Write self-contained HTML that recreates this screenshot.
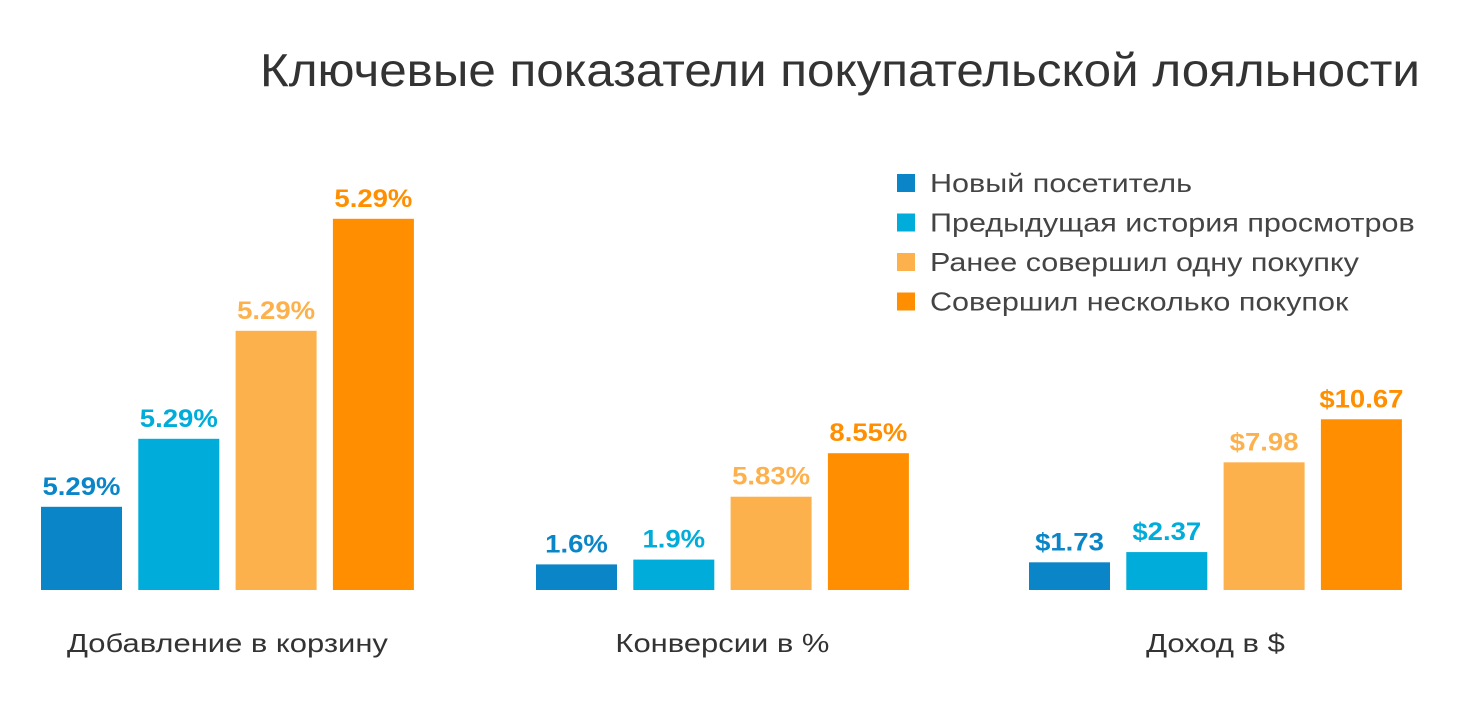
<!DOCTYPE html>
<html><head><meta charset="utf-8">
<style>
body{margin:0;background:#fff;width:1474px;height:698px;overflow:hidden;font-family:"Liberation Sans","DejaVu Sans",sans-serif;}
</style></head>
<body>
<svg id="chart" width="1474" height="698" xmlns="http://www.w3.org/2000/svg">
<text x="260" y="86" textLength="1160" lengthAdjust="spacingAndGlyphs" font-size="46" fill="#333" font-family="Liberation Sans, sans-serif">Ключевые показатели покупательской лояльности</text>
<g id="legend"></g>
<g id="bars"></g>
</svg>
<script>
const categories = ["Добавление в корзину", "Конверсии в %", "Доход в $"];
const seriesNames = ["Новый посетитель", "Предыдущая история просмотров", "Ранее совершил одну покупку", "Совершил несколько покупок"];
const seriesValues = [
  [5.2, 1.6, 1.73],
  [9.45, 1.9, 2.37],
  [16.2, 5.83, 7.98],
  [23.2, 8.55, 10.67]
];
const valueLabels = [
  ["5.29%", "1.6%", "$1.73"],
  ["5.29%", "1.9%", "$2.37"],
  ["5.29%", "5.83%", "$7.98"],
  ["5.29%", "8.55%", "$10.67"]
];
const colors = ["#0a85c7", "#00acd9", "#fdb14d", "#ff8f00"];
const labelColors = ["#0a85c7", "#00acd9", "#fdb14d", "#ff8f00"];

const NS = "http://www.w3.org/2000/svg";
const baseY = 590, pxPerUnit = 16;
const groupStart = [41, 536, 1029], barStep = 97.3, barW = 81;
function yScale(v){ return baseY - v * pxPerUnit; }
function xScale(g, s){ return groupStart[g] + s * barStep; }
function widen(t, f){
  const len = t.getComputedTextLength();
  t.setAttribute('textLength', len * f);
  t.setAttribute('lengthAdjust', 'spacingAndGlyphs');
}

const barsG = document.getElementById('bars');
categories.forEach((cat, g) => {
  seriesValues.forEach((vals, s) => {
    const x = xScale(g, s), y = yScale(vals[g]);
    const r = document.createElementNS(NS, 'rect');
    r.setAttribute('x', x); r.setAttribute('y', y);
    r.setAttribute('width', barW); r.setAttribute('height', baseY - y);
    r.setAttribute('fill', colors[s]);
    
    
    barsG.appendChild(r);
    const t = document.createElementNS(NS, 'text');
    t.setAttribute('x', x + barW / 2); t.setAttribute('y', y - 12);
    t.setAttribute('text-anchor', 'middle'); t.setAttribute('font-size', '25');
    t.setAttribute('font-weight', 'bold'); t.setAttribute('fill', labelColors[s]);
    t.textContent = valueLabels[s][g];
    
    
    barsG.appendChild(t);
    widen(t, 1.1);
  });
  const c = document.createElementNS(NS, 'text');
  c.setAttribute('x', xScale(g, 0) + (3 * barStep + barW) / 2);
  c.setAttribute('y', 652); c.setAttribute('text-anchor', 'middle');
  c.setAttribute('font-size', '26'); c.setAttribute('fill', '#333');
  c.textContent = cat;
  
  
  barsG.appendChild(c);
  widen(c, 1.19);
});

const legG = document.getElementById('legend');
seriesNames.forEach((n, i) => {
  const y = 183 + i * 39.5;
  const r = document.createElementNS(NS, 'rect');
  r.setAttribute('x', 897); r.setAttribute('y', y - 9);
  r.setAttribute('width', 18); r.setAttribute('height', 18);
  r.setAttribute('fill', colors[i]);
  
  
  legG.appendChild(r);
  const t = document.createElementNS(NS, 'text');
  t.setAttribute('x', 930); t.setAttribute('y', y + 9);
  t.setAttribute('font-size', '26'); t.setAttribute('fill', '#444');
  t.textContent = n;
  
  
  legG.appendChild(t);
  widen(t, 1.175);
});
</script>
</body></html>
